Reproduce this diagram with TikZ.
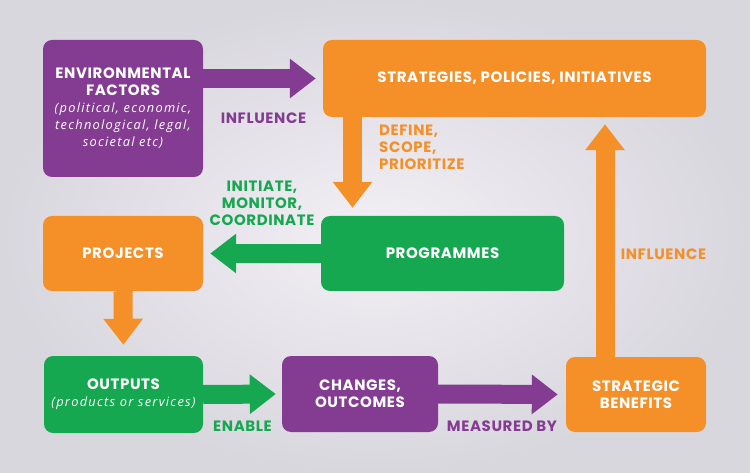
\documentclass[tikz,border=0pt]{standalone}
\usepackage{fontspec}
\setmainfont{Poppins}
\newfontfamily\mybfam{Poppins}[LetterSpace=4]
\newfontfamily\mysubfam{Open Sans}[LetterSpace=10]
\usetikzlibrary{arrows.meta}
\definecolor{cpurple}{HTML}{843C92}
\definecolor{corange}{HTML}{F58F27}
\definecolor{cgreen}{HTML}{16A850}
\definecolor{bgin}{HTML}{F2F0F5}
\definecolor{bgout}{HTML}{D9D7DE}
\newcommand{\mysubsty}{\fontsize{12.8}{17}\selectfont\mysubfam\mdseries\itshape}
\tikzset{
  box/.style={rounded corners=9pt, inner sep=0pt, text=white, align=center,
    font=\fontsize{15}{17}\selectfont\mybfam\bfseries},
  lbl/.style={inner sep=0pt, font=\fontsize{15}{17}\selectfont\mybfam\bfseries},
  arr/.style={line width=19pt, -{Triangle[length=26pt,width=38pt]}}}
\begin{document}
\begin{tikzpicture}[x=1pt,y=-1pt]
\useasboundingbox (0,0) rectangle (750,473);
\shade[inner color=bgin, outer color=bgout] (0,0) rectangle (750,473);
% boxes
\node[box, fill=cpurple, minimum width=160pt, minimum height=137pt] (env) at (123,108.5)
  {ENVIRONMENTAL\\FACTORS\\{\mysubsty (political, economic,}\\{\mysubsty technological, legal,}\\{\mysubsty societal etc)}};
\node[box, fill=corange, minimum width=383pt, minimum height=77pt] (strat) at (514.5,78.5)
  {STRATEGIES, POLICIES, INITIATIVES};
\node[box, fill=cgreen, minimum width=243pt, minimum height=75pt] (prog) at (442.5,253.5)
  {PROGRAMMES};
\node[box, fill=corange, minimum width=160pt, minimum height=75pt] (proj) at (123,253.5)
  {PROJECTS};
\node[box, fill=cgreen, minimum width=159pt, minimum height=77pt] (out) at (123.5,394.5)
  {OUTPUTS\\{\mysubsty (products or services)}};
\node[box, fill=cpurple, minimum width=156pt, minimum height=76pt] (chg) at (360,394)
  {CHANGES,\\OUTCOMES};
\node[box, fill=corange, minimum width=140pt, minimum height=75pt] (ben) at (636,394.5)
  {STRATEGIC\\BENEFITS};
% connector anchor points
\coordinate (sdown) at ([xshift=-90pt]prog.north);
\coordinate (bup) at ([xshift=-31pt]ben.north);
% arrows
\draw[arr, cpurple, shorten >=7pt] (env.east |- strat.west) -- (strat.west);
\draw[arr, corange, shorten >=8pt] (strat.south -| sdown) -- (sdown);
\draw[arr, cgreen, shorten >=7pt] (prog.west) -- (proj.east);
\draw[arr, corange, shorten >=11pt] (proj.south) -- (out.north);
\draw[arr, cgreen, shorten >=6pt] (out.east) -- (chg.west);
\draw[arr, cpurple, shorten >=8pt] (chg.east) -- (ben.west);
\draw[arr, corange, shorten >=7pt] (bup) -- (strat.south -| bup);
% labels
\node[lbl, text=cpurple] (l1) at (263.5,118) {INFLUENCE};
\node[lbl, text=corange, anchor=west, align=left] (l2) at (379,147) {DEFINE,\\SCOPE,\\PRIORITIZE};
\node[lbl, text=cgreen, align=center] (l3) at (262,203) {INITIATE,\\MONITOR,\\COORDINATE};
\node[lbl, text=corange] (l4) at (663.5,254) {INFLUENCE};
\node[lbl, text=cgreen] (l5) at (242.5,426) {ENABLE};
\node[lbl, text=cpurple] (l6) at (502,426) {MEASURED BY};
\end{tikzpicture}
\end{document}
